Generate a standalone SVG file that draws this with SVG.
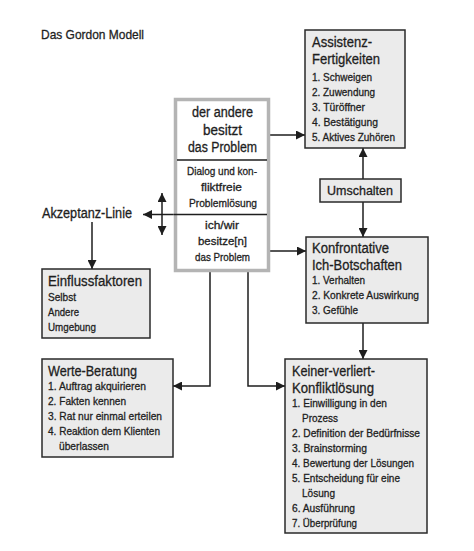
<svg xmlns="http://www.w3.org/2000/svg" width="474" height="551" viewBox="0 0 474 551">
<style>
text{font-family:"Liberation Sans",Arial,sans-serif;fill:#1e1e1e;stroke:#1e1e1e;stroke-width:0.3;}
.h{font-size:14px;}
.i{font-size:11px;}
.box{fill:#ebebeb;stroke:#2a2a2a;stroke-width:1.5;}
.ln{stroke:#1e1e1e;stroke-width:1.5;fill:none;}
</style>
<defs>
<marker id="ah" viewBox="0 0 10 10" refX="10" refY="5" markerWidth="9" markerHeight="9" orient="auto-start-reverse" markerUnits="userSpaceOnUse"><path d="M0,0 L10,5 L0,10 z" fill="#1e1e1e"/></marker>
</defs>
<rect width="474" height="551" fill="#fff"/>
<text id="title" x="41" y="39" font-size="13" textLength="103" lengthAdjust="spacingAndGlyphs">Das Gordon Modell</text>

<g id="connectors">
<line class="ln" x1="270" y1="135" x2="305" y2="135" marker-end="url(#ah)"/>
<line class="ln" x1="270" y1="251" x2="306" y2="251" marker-end="url(#ah)"/>
<line class="ln" x1="363" y1="179" x2="363" y2="148" marker-end="url(#ah)"/>
<line class="ln" x1="363" y1="202" x2="363" y2="237" marker-end="url(#ah)"/>
<line class="ln" x1="363" y1="323" x2="363" y2="359" marker-end="url(#ah)"/>
<polyline class="ln" points="248,272 248,386 285,386" marker-end="url(#ah)"/>
<polyline class="ln" points="210,272 210,386 173,386" marker-end="url(#ah)"/>
<line class="ln" x1="174" y1="214.5" x2="143" y2="214.5" marker-end="url(#ah)"/>
<line class="ln" x1="162" y1="193" x2="162" y2="235" marker-start="url(#ah)" marker-end="url(#ah)"/>
<line class="ln" x1="92" y1="222" x2="92" y2="269" marker-end="url(#ah)"/>
</g>

<g id="center">
<rect x="177" y="101" width="93" height="171" fill="#d8d8d8"/>
<rect x="175.5" y="99.5" width="93" height="171" fill="#fff" stroke="#b4b4b4" stroke-width="3.5"/>
<line x1="177" y1="160" x2="267" y2="160" stroke="#1e1e1e" stroke-width="1.5"/>
<line x1="174" y1="214.5" x2="267" y2="214.5" stroke="#1e1e1e" stroke-width="1.5"/>
<text class="h" x="192" y="117" textLength="61" lengthAdjust="spacingAndGlyphs">der andere</text>
<text class="h" x="203" y="135" textLength="39" lengthAdjust="spacingAndGlyphs">besitzt</text>
<text class="h" x="188" y="152" textLength="69" lengthAdjust="spacingAndGlyphs">das Problem</text>
<text class="i" x="187" y="175" textLength="70" lengthAdjust="spacingAndGlyphs">Dialog und kon-</text>
<text class="i" x="201" y="191" textLength="41" lengthAdjust="spacingAndGlyphs">fliktfreie</text>
<text class="i" x="189" y="207" textLength="68" lengthAdjust="spacingAndGlyphs">Problemlösung</text>
<text class="i" x="205" y="229" textLength="34" lengthAdjust="spacingAndGlyphs">ich/wir</text>
<text class="i" x="198" y="245" textLength="49" lengthAdjust="spacingAndGlyphs">besitze[n]</text>
<text class="i" x="195" y="261" textLength="55" lengthAdjust="spacingAndGlyphs">das Problem</text>
</g>

<g id="assistenz">
<rect class="box" x="305" y="30" width="100" height="118"/>
<text class="h" x="312" y="47" textLength="60" lengthAdjust="spacingAndGlyphs">Assistenz-</text>
<text class="h" x="312" y="64" textLength="68" lengthAdjust="spacingAndGlyphs">Fertigkeiten</text>
<text class="i" x="312" y="81" textLength="60" lengthAdjust="spacingAndGlyphs">1. Schweigen</text>
<text class="i" x="312" y="96" textLength="63" lengthAdjust="spacingAndGlyphs">2. Zuwendung</text>
<text class="i" x="312" y="111" textLength="53" lengthAdjust="spacingAndGlyphs">3. Türöffner</text>
<text class="i" x="312" y="126" textLength="66" lengthAdjust="spacingAndGlyphs">4. Bestätigung</text>
<text class="i" x="312" y="141" textLength="83" lengthAdjust="spacingAndGlyphs">5. Aktives Zuhören</text>
</g>

<g id="umschalten">
<rect class="box" x="320" y="179" width="81" height="23"/>
<text x="327" y="195" font-size="13" textLength="66" lengthAdjust="spacingAndGlyphs">Umschalten</text>
</g>

<g id="konfrontative">
<rect class="box" x="306" y="237" width="122" height="86"/>
<text class="h" x="312" y="253" textLength="77" lengthAdjust="spacingAndGlyphs">Konfrontative</text>
<text class="h" x="312" y="270" textLength="90" lengthAdjust="spacingAndGlyphs">Ich-Botschaften</text>
<text class="i" x="312" y="284" textLength="53" lengthAdjust="spacingAndGlyphs">1. Verhalten</text>
<text class="i" x="312" y="299" textLength="107" lengthAdjust="spacingAndGlyphs">2. Konkrete Auswirkung</text>
<text class="i" x="312" y="314" textLength="46" lengthAdjust="spacingAndGlyphs">3. Gefühle</text>
</g>

<g id="akzeptanz">
<text class="h" x="42" y="218" textLength="90" lengthAdjust="spacingAndGlyphs">Akzeptanz-Linie</text>
</g>

<g id="einfluss">
<rect class="box" x="42" y="269" width="108" height="69"/>
<text class="h" x="48" y="286" textLength="94" lengthAdjust="spacingAndGlyphs">Einflussfaktoren</text>
<text class="i" x="48" y="301" textLength="28" lengthAdjust="spacingAndGlyphs">Selbst</text>
<text class="i" x="48" y="316" textLength="31" lengthAdjust="spacingAndGlyphs">Andere</text>
<text class="i" x="48" y="331" textLength="48" lengthAdjust="spacingAndGlyphs">Umgebung</text>
</g>

<g id="werte">
<rect class="box" x="42" y="359" width="131" height="98"/>
<text class="h" x="48" y="376" textLength="89" lengthAdjust="spacingAndGlyphs">Werte-Beratung</text>
<text class="i" x="48" y="390" textLength="98" lengthAdjust="spacingAndGlyphs">1. Auftrag akquirieren</text>
<text class="i" x="48" y="405" textLength="78" lengthAdjust="spacingAndGlyphs">2. Fakten kennen</text>
<text class="i" x="48" y="420" textLength="114" lengthAdjust="spacingAndGlyphs">3. Rat nur einmal erteilen</text>
<text class="i" x="48" y="435" textLength="112" lengthAdjust="spacingAndGlyphs">4. Reaktion dem Klienten</text>
<text class="i" x="59" y="450" textLength="50" lengthAdjust="spacingAndGlyphs">überlassen</text>
</g>

<g id="keiner">
<rect class="box" x="285" y="359" width="142" height="174"/>
<text class="h" x="292" y="376" textLength="83" lengthAdjust="spacingAndGlyphs">Keiner-verliert-</text>
<text class="h" x="292" y="393" textLength="82" lengthAdjust="spacingAndGlyphs">Konfliktlösung</text>
<text class="i" x="292" y="407" textLength="95" lengthAdjust="spacingAndGlyphs">1. Einwilligung in den</text>
<text class="i" x="302" y="422" textLength="36" lengthAdjust="spacingAndGlyphs">Prozess</text>
<text class="i" x="292" y="437" textLength="128" lengthAdjust="spacingAndGlyphs">2. Definition der Bedürfnisse</text>
<text class="i" x="292" y="452" textLength="75" lengthAdjust="spacingAndGlyphs">3. Brainstorming</text>
<text class="i" x="292" y="467" textLength="122" lengthAdjust="spacingAndGlyphs">4. Bewertung der Lösungen</text>
<text class="i" x="292" y="482" textLength="108" lengthAdjust="spacingAndGlyphs">5. Entscheidung für eine</text>
<text class="i" x="302" y="497" textLength="33" lengthAdjust="spacingAndGlyphs">Lösung</text>
<text class="i" x="292" y="512" textLength="63" lengthAdjust="spacingAndGlyphs">6. Ausführung</text>
<text class="i" x="292" y="527" textLength="65" lengthAdjust="spacingAndGlyphs">7. Überprüfung</text>
</g>
</svg>
